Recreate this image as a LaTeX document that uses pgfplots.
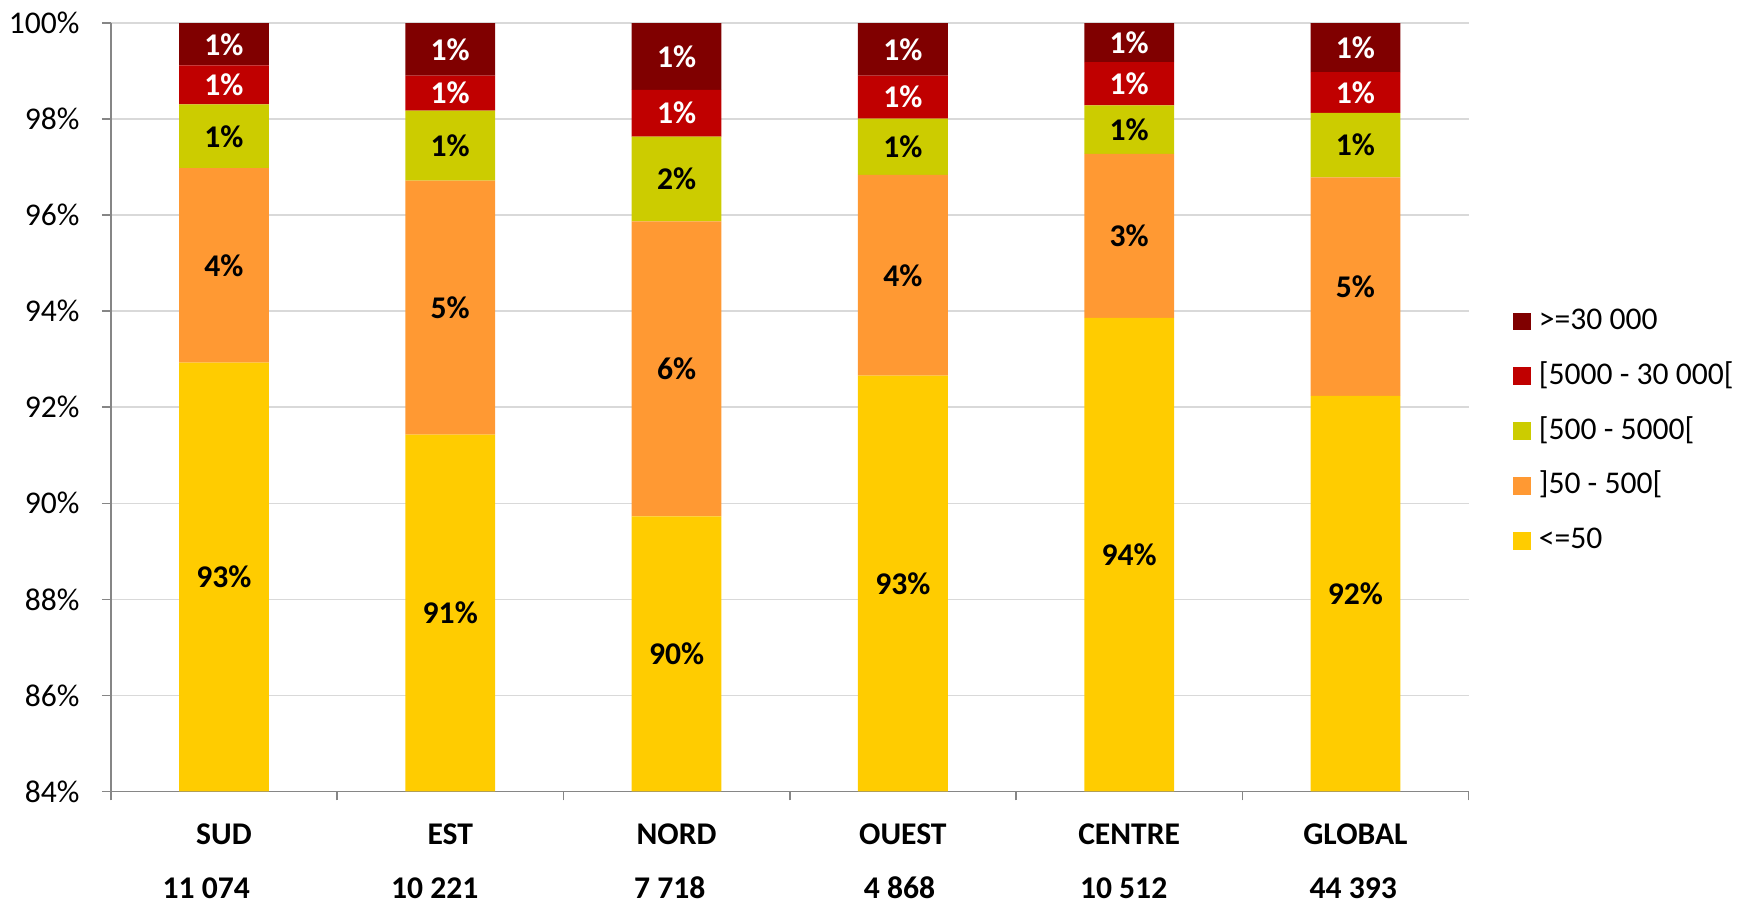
\documentclass[border=0pt]{standalone}
\usepackage{fontspec}
\setmainfont{Carlito}
\usepackage{pgfplots}
\pgfplotsset{compat=1.18}
\definecolor{cA}{RGB}{255,204,0}
\definecolor{cB}{RGB}{255,153,51}
\definecolor{cC}{RGB}{204,204,0}
\definecolor{cD}{RGB}{192,0,0}
\definecolor{cE}{RGB}{128,0,0}
\definecolor{gridc}{RGB}{217,217,217}
\definecolor{axc}{RGB}{134,134,134}
\newcommand{\fs}{\fontsize{15.8}{19}\selectfont}
\newcommand{\fx}{\fontsize{15.8}{27}\selectfont}
\begin{document}
\begin{tikzpicture}
\path (-55.4pt,-56.3pt) rectangle (813.6pt,395.7pt);
\begin{axis}[
  at={(0,0)}, anchor=south west,
  scale only axis, width=678.9pt, height=384.1pt,
  ybar stacked, bar width=44.9pt,
  xmin=-0.5, xmax=5.5, ymin=84, ymax=100,
  xtick={-0.5,0.5,...,5.5},
  x tick label as interval,
  xticklabels={{SUD\\11 074\kern17.7pt},{EST\\10 221\kern15.5pt},{NORD\\7 718\kern6.7pt},{OUEST\\4 868\kern3.3pt},{CENTRE\\10 512\kern5.5pt},{GLOBAL\\44 393\kern2.2pt}},
  xticklabel style={font=\fx\bfseries, align=center, anchor=north, inner sep=0pt, yshift=-11.5pt},
  ytick={84,86,...,100},
  yticklabel={\pgfmathprintnumber[assume math mode=true]{\tick}\%},
  yticklabel style={font=\fs, inner sep=0pt, xshift=-11pt},
  ymajorgrids, grid style={gridc, line width=0.8pt},
  axis x line=bottom, axis y line=left,
  axis line style={-, axc, line width=0.8pt},
  tick align=outside, major tick length=4.5pt,
  tick style={axc, line width=0.8pt},
  legend style={at={(1.0326,0.469)}, anchor=west, draw=none, fill=none, font=\fs, inner sep=0pt,
     nodes={inner sep=0pt, text height=11pt, text depth=3pt}, row sep=13.4pt,
     /tikz/every odd column/.append style={column sep=3.9pt}},
  legend cell align=left, reverse legend,
  legend image code/.code={\fill[#1] (0pt,-4.45pt) rectangle (8.9pt,4.45pt);},
  nodes near coords={\pgfmathprintnumber[fixed,precision=0,assume math mode=true]{\pgfplotspointmeta}\%},
  nodes near coords style={font=\fs\bfseries, anchor=center},
]
\addplot[fill=cA, draw=none, every node near coord/.append style={text=black, shift={(axis direction cs:0,42)}}]
  coordinates {(0,92.93) (1,91.43) (2,89.73) (3,92.66) (4,93.86) (5,92.24)};
\addlegendentry{<=50}
\addplot[fill=cB, draw=none, every node near coord/.append style={text=black}]
  coordinates {(0,4.05) (1,5.29) (2,6.14) (3,4.18) (4,3.42) (5,4.55)};
\addlegendentry{\mbox{]50 - 500[}}
\addplot[fill=cC, draw=none, every node near coord/.append style={text=black}]
  coordinates {(0,1.33) (1,1.46) (2,1.77) (3,1.17) (4,1.01) (5,1.34)};
\addlegendentry{\mbox{[500 - 5000[}}
\addplot[fill=cD, draw=none, every node near coord/.append style={text=white}]
  coordinates {(0,0.81) (1,0.73) (2,0.97) (3,0.90) (4,0.90) (5,0.85)};
\addlegendentry{\mbox{[5000 - 30 000[}}
\addplot[fill=cE, draw=none, every node near coord/.append style={text=white}]
  coordinates {(0,0.88) (1,1.09) (2,1.39) (3,1.09) (4,0.81) (5,1.02)};
\addlegendentry{>=30 000}
\end{axis}
\end{tikzpicture}
\end{document}
